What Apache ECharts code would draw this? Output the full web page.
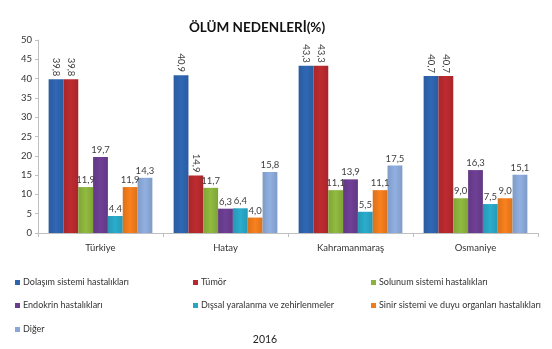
<!DOCTYPE html>
<html>
<head>
<meta charset="utf-8">
<script src="https://cdn.jsdelivr.net/npm/echarts@6/dist/echarts.min.js"></script>
<style>
html,body{margin:0;padding:0;background:#fff;}
#c{width:552px;height:349px;}
</style>
</head>
<body>
<div id="c"></div>
<script>
const categories = ['Türkiye', 'Hatay', 'Kahramanmaraş', 'Osmaniye'];
const seriesNames = ['Dolaşım sistemi hastalıkları', 'Tümör', 'Solunum sistemi hastalıkları', 'Endokrin hastalıkları', 'Dışsal yaralanma ve zehirlenmeler', 'Sinir sistemi ve duyu organları hastalıkları', 'Diğer'];
const dolasim = [39.8, 40.9, 43.3, 40.7];
const tumor = [39.8, 14.9, 43.3, 40.7];
const solunum = [11.9, 11.7, 11.1, 9.0];
const endokrin = [19.7, 6.3, 13.9, 16.3];
const dissal = [4.4, 6.4, 5.5, 7.5];
const sinir = [11.9, 4.0, 11.1, 9.0];
const diger = [14.3, 15.8, 17.5, 15.1];
const yTicks = [0, 5, 10, 15, 20, 25, 30, 35, 40, 45, 50];
const subtitle = '2016';
const title = 'ÖLÜM NEDENLERİ(%)';

const allValues = [dolasim, tumor, solunum, endokrin, dissal, sinir, diger];
const colors = ['#2E63AD', '#B5292E', '#8AB23C', '#6A3D8F', '#29A5C4', '#EE7B1C', '#8AA8D7'];
// which labels are drawn rotated: [seriesIndex, categoryIndex]
const rotated = [[0,0],[1,0],[0,1],[1,1],[0,2],[1,2],[0,3],[1,3]];
const isRot = (s, c) => rotated.some(r => r[0] === s && r[1] === c);
const FONT = 'Lato, "Open Sans", sans-serif';
const fmt = v => v.toFixed(1).replace('.', ',');

function shade(hex, f) {
  const n = parseInt(hex.slice(1), 16);
  let r = (n >> 16) & 255, g = (n >> 8) & 255, b = n & 255;
  r = Math.round(Math.min(255, r * f)); g = Math.round(Math.min(255, g * f)); b = Math.round(Math.min(255, b * f));
  return 'rgb(' + r + ',' + g + ',' + b + ')';
}

const series = allValues.map((vals, s) => ({
  name: seriesNames[s],
  type: 'bar',
  barGap: '0%',
  barCategoryGap: '17%',
  itemStyle: {
    color: {
      type: 'linear', x: 0, y: 0, x2: 1, y2: 0,
      colorStops: [
        {offset: 0, color: shade(colors[s], 0.92)},
        {offset: 0.5, color: shade(colors[s], 1.05)},
        {offset: 1, color: shade(colors[s], 0.92)}
      ]
    }
  },
  data: vals.map((v, c) => {
    const d = {value: v};
    if (isRot(s, c)) {
      d.label = {show: true, position: 'top', rotate: -90, align: 'right', verticalAlign: 'middle', distance: 3};
    }
    return d;
  }),
  label: {
    show: true, position: 'top', distance: 2,
    color: '#404040', fontSize: 9.5, fontFamily: FONT,
    formatter: p => fmt(p.value)
  }
}));

const legendPos = [
  [10, 273], [188, 273], [366, 273],
  [10, 296], [188, 296], [366, 296],
  [10, 320]
];
const legends = seriesNames.map((n, i) => ({
  data: [{name: n, icon: 'rect', itemStyle: {color: colors[i]}}],
  left: legendPos[i][0], top: legendPos[i][1],
  itemWidth: 5, itemHeight: 5, itemGap: 4,
  textStyle: {fontSize: 9, color: '#333', fontFamily: FONT, padding: [0, 0, 0, -2]},
  selectedMode: false
}));

const chart = echarts.init(document.getElementById('c'), null, {renderer: 'canvas'});
chart.setOption({
  animation: false,
  backgroundColor: '#fff',
  color: colors,
  title: [
    {text: title, left: 252, top: 16, textAlign: 'center',
     textStyle: {fontSize: 13.5, fontWeight: 'bold', color: '#111', fontFamily: FONT}},
    {text: subtitle, left: 260, top: 329, textAlign: 'center',
     textStyle: {fontSize: 10.5, fontWeight: 'normal', color: '#222', fontFamily: FONT}}
  ],
  legend: legends,
  grid: {left: 38, right: 14, top: 40, height: 193, containLabel: false},
  xAxis: {
    type: 'category', data: categories,
    axisLine: {lineStyle: {color: '#bfbfbf'}},
    axisTick: {show: true, length: 4, lineStyle: {color: '#bfbfbf'}},
    axisLabel: {fontSize: 9.5, color: '#333', fontFamily: FONT, margin: 10}
  },
  yAxis: {
    type: 'value', min: yTicks[0], max: yTicks[yTicks.length - 1], interval: yTicks[1] - yTicks[0],
    axisLine: {show: true, lineStyle: {color: '#bfbfbf'}},
    axisTick: {show: true, length: 3, lineStyle: {color: '#bfbfbf'}},
    splitLine: {show: false},
    axisLabel: {fontSize: 9.5, color: '#333', fontFamily: FONT, margin: 6}
  },
  series: series
});
</script>
</body>
</html>
